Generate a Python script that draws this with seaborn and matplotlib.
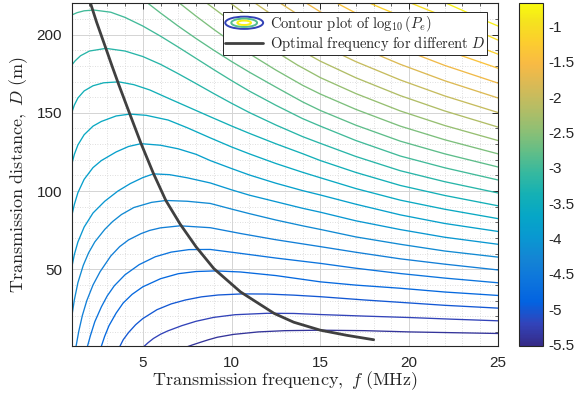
import numpy as np
import pandas as pd
import seaborn as sns
import matplotlib
matplotlib.use("Agg")
import matplotlib.pyplot as plt
from matplotlib.colors import LinearSegmentedColormap, Normalize
from matplotlib.cm import ScalarMappable
from matplotlib.patches import Ellipse
from matplotlib.lines import Line2D
from matplotlib.legend_handler import HandlerBase
from matplotlib.ticker import MultipleLocator, FormatStrFormatter

# ---------------- data ----------------
contour_levels = [-5.4, -5.2, -5.0, -4.8, -4.6, -4.4, -4.2, -4.0, -3.8, -3.6, -3.4, -3.2,
                  -3.0, -2.8, -2.6, -2.4, -2.2, -2.0, -1.8, -1.6, -1.4, -1.2, -1.0, -0.8]

contour_f = [
    [7.5, 7.8, 8.2, 8.7, 9.2, 10.1, 11.5, 13.0, 15.0, 17.5, 20.0, 22.5, 25],
    [5.05, 5.3, 5.6, 6.0, 6.4, 7.2, 8.0, 9.0, 10.2, 12.0, 13.5, 15, 17.5, 20, 22.5, 25],
    [3.7, 3.9, 4.2, 4.6, 5.0, 5.8, 6.6, 7.4, 8.3, 9.25, 10.6, 12, 13.5, 15, 17.5, 19.5, 22, 25],
    [2.66, 2.85, 3.1, 3.5, 3.9, 4.4, 5.0, 6.0, 7.0, 8.0, 9.1, 10.5, 12.5, 15, 17, 19.5, 22, 25],
    [1.88, 2.05, 2.3, 2.67, 3.0, 3.4, 4.0, 4.8, 5.7, 6.6, 7.6, 8.8, 10.5, 12.5, 15, 17, 19.5, 22, 25],
    [1.24, 1.4, 1.6, 1.85, 2.2, 2.6, 3.2, 3.7, 4.2, 4.9, 5.4, 6.0, 7.1, 8.8, 10.5, 12.5, 15, 17, 19.5, 22, 25],
    [1, 1.15, 1.35, 1.65, 1.95, 2.3, 2.86, 3.3, 3.8, 4.5, 5.5, 6.3, 7.5, 8.8, 10.0, 11.0, 12.5, 14, 15, 17, 19.5, 22, 25],
    [1, 1.15, 1.35, 1.7, 2.2, 2.86, 3.6, 4.3, 5.0, 5.6, 6.5, 7.5, 8.8, 10.0, 11.0, 12.5, 14, 15, 17, 19.5, 22, 25],
    [1, 1.15, 1.35, 1.7, 2.2, 2.67, 3.5, 4.2, 4.9, 6.0, 7.0, 8.0, 8.8, 10.0, 11.0, 12.5, 14, 15, 17, 19.5, 22, 25],
    [1, 1.15, 1.35, 1.7, 2.2, 2.67, 3.5, 4.28, 5.2, 6.43, 7.5, 8.8, 10.0, 11.0, 12.5, 14, 15, 17, 19.5, 22, 25],
    [1, 1.15, 1.35, 1.7, 2.2, 2.8, 3.65, 4.5, 5.4, 6.5, 7.6, 8.8, 10.0, 11.0, 12.5, 14, 15, 17, 19.5, 22, 25],
    [1, 1.2, 1.5, 2.0, 2.93, 4.0, 5.0, 6.0, 7.0, 8.0, 9.0, 10.0, 11.0, 12.5, 14, 15, 17, 19.5, 22, 25],
    [1, 1.3, 1.7, 2.25, 3.2, 4.0, 5.0, 6.0, 7.0, 8.0, 9.0, 10.0, 11.0, 12.5, 14, 15, 17, 19.5, 22, 25],
    [5.0, 6.0, 7.0, 8.0, 9.0, 10.0, 11.0, 12.5, 14, 15, 17, 19.5, 22, 25],
    [6.8, 8.0, 9.0, 10.0, 11.0, 12.5, 14, 15, 17, 19.5, 22, 25],
    [8.5, 9.5, 10.5, 11.5, 12.5, 13.7, 15, 17, 19.5, 22, 25],
    [9.8, 11, 12, 13, 14, 15, 17, 19.5, 22, 25],
    [11.2, 12, 13, 14, 15, 17, 19.5, 22, 25],
    [12.6, 13, 14, 15, 17, 19.5, 22, 25],
    [14.0, 15, 16, 17, 19.5, 22, 25],
    [15.9, 17, 18, 19.5, 22, 25],
    [17.7, 18.5, 19.5, 21, 22, 23.5, 25],
    [19.8, 21, 22, 23.5, 25],
    [21.9, 23, 24, 25],
]

contour_D = [
    [0.5, 1.7, 3.2, 5.0, 6.6, 8.4, 10.0, 10.8, 11.1, 10.8, 10.0, 9.5, 9.0],
    [0.5, 3.1, 5.8, 8.5, 10.6, 14.0, 16.8, 19.3, 21.0, 21.9, 21.8, 21.1, 20.1, 19.2, 18.1, 17.1],
    [0.5, 5.0, 9.6, 14.6, 18.5, 24.2, 27.9, 30.4, 32.4, 33.6, 34.3, 34.2, 33.5, 32.5, 30.4, 28.9, 27.0, 25.2],
    [0.5, 7.0, 14.0, 22.0, 28.5, 34.0, 38.8, 44.0, 47.2, 48.6, 49.0, 48.3, 46.0, 42.0, 39.9, 37.9, 35.5, 33.3],
    [0.5, 7.5, 16.5, 26.0, 33.0, 39.5, 46.5, 53.0, 58.0, 61.0, 62.6, 62.7, 60.2, 57.2, 53.8, 50.7, 47.3, 44.4, 41.4],
    [0.5, 10.5, 20.5, 30.0, 40.0, 48.5, 58.5, 64.5, 68.8, 72.8, 74.9, 76.5, 77.8, 76.6, 72.9, 68.9, 64.5, 60.9, 56.7, 53.3, 49.6],
    [19.5, 30.5, 41.5, 52.5, 60.5, 67.5, 75.5, 80.5, 85.0, 89.5, 92.8, 94, 93.5, 92.1, 88.5, 85.6, 81.5, 77.8, 75.5, 70.7, 66.0, 61.7, 57.8],
    [51, 59.5, 67.5, 77.0, 86.0, 93.5, 100.0, 104.8, 108.6, 111.0, 110.5, 108.5, 105.2, 100.8, 97.4, 93.2, 89.0, 86.5, 81.0, 75.4, 70.5, 66.0],
    [84, 91.5, 99.0, 107.5, 115.0, 119.5, 125.0, 128.5, 130.3, 129.3, 127, 123.5, 119.5, 114.4, 110.3, 105.0, 100.3, 97.5, 91.6, 84.8, 79.3, 74.2],
    [117, 123.5, 129.5, 136.0, 141.5, 144.5, 148.0, 149.2, 148.4, 145.4, 140.5, 134, 128.2, 123.8, 117.6, 112.0, 108.5, 101.6, 94.2, 88.4, 82.4],
    [150, 155.0, 159.5, 164.0, 167.3, 169.2, 169.8, 168, 164.6, 159, 153.5, 147.5, 141.6, 136.9, 130.2, 123.9, 119.5, 111.9, 103.6, 97.2, 90.6],
    [180.5, 183.3, 186.5, 189.5, 191.2, 189.5, 186, 181, 175, 168.7, 162.3, 156.1, 150.2, 142.2, 134.8, 130.5, 122.1, 113.0, 106.0, 98.8],
    [212.5, 214.0, 215.2, 215.7, 214.3, 211, 205.5, 199, 192, 184.8, 177.6, 170.6, 163.9, 154.8, 146.3, 141.5, 132.3, 122.4, 114.9, 107.1],
    [222.6, 213.8, 205.4, 197.5, 190.0, 182.8, 176.0, 166.4, 157.0, 151.5, 142.1, 131.9, 123.8, 115.4],
    [222.5, 211.8, 203.3, 195.3, 187.8, 177.3, 167.6, 162.0, 152.2, 141.5, 132.8, 123.8],
    [221, 212.5, 204.2, 196.4, 189.1, 180.6, 172.5, 162.3, 151.2, 141.9, 132.3],
    [221.2, 211.2, 203.4, 196.1, 189.3, 183.0, 172.4, 161.0, 151.2, 140.9],
    [221.1, 214.8, 207.2, 200.1, 193.5, 182.7, 171.0, 160.8, 150.2],
    [221.2, 218.2, 210.9, 204.0, 193.0, 181.0, 170.5, 159.5],
    [221.6, 214.5, 208.7, 203.3, 191.2, 180.3, 169.0],
    [220.3, 213.7, 208.0, 201.5, 190.2, 178.5],
    [220.5, 216.6, 212.0, 205.2, 200.8, 194.0, 187.5],
    [221.5, 216.0, 211.5, 204.0, 196.5],
    [221.0, 215.5, 210.3, 205.5],
]

opt_f = [2.06, 2.4, 2.93, 3.3, 3.65, 4.28, 4.9, 5.6, 6.3, 7.1, 8.0, 9.0, 10.5, 12.4, 13.5, 15.0, 16.5, 18.0]
opt_D = [220, 208, 191, 179, 168, 149, 130.5, 111.3, 94, 79, 64.4, 50.5, 35.6, 21.8, 16.2, 11.1, 7.8, 5.0]

cbar_ticks = [-5.5, -5, -4.5, -4, -3.5, -3, -2.5, -2, -1.5, -1]
cbar_range = (-5.52, -0.67)

# ---------------- style ----------------
sns.set_theme(style="white")
plt.rcParams["font.family"] = ["Liberation Sans", "DejaVu Sans"]
plt.rcParams["mathtext.fontset"] = "cm"
plt.rcParams["axes.unicode_minus"] = False

parula_anchors = [
    (0.2081, 0.1663, 0.5292), (0.1959, 0.2645, 0.7279), (0.0117, 0.3875, 0.8820),
    (0.0498, 0.4586, 0.8641), (0.0793, 0.5200, 0.8312), (0.0343, 0.5966, 0.8199),
    (0.0228, 0.6535, 0.7768), (0.0843, 0.6928, 0.7062), (0.2178, 0.7250, 0.6193),
    (0.3953, 0.7459, 0.5244), (0.5709, 0.7485, 0.4494), (0.7184, 0.7411, 0.3905),
    (0.8507, 0.7299, 0.3360), (0.9739, 0.7314, 0.2666), (0.9880, 0.8066, 0.1794),
    (0.9589, 0.8949, 0.1132), (0.9763, 0.9831, 0.0538)]
parula_pos = [0, 4, 8, 12, 16, 20, 24, 28, 32, 36, 40, 44, 48, 52, 56, 60, 63]
parula = LinearSegmentedColormap.from_list(
    "parula", list(zip([p / 63 for p in parula_pos], parula_anchors)))
norm = Normalize(*cbar_range)

W, H = 588, 396
fig = plt.figure(figsize=(W / 100, H / 100), dpi=100)
ax_l, ax_r, ax_t, ax_b = 71.7, 498.0, 3.3, 346.0
ax = fig.add_axes([ax_l / W, 1 - ax_b / H, (ax_r - ax_l) / W, (ax_b - ax_t) / H])

rows = []
for i, (lv, fs, ds) in enumerate(zip(contour_levels, contour_f, contour_D)):
    for f, d in zip(fs, ds):
        rows.append({"f": f, "D": d, "level": lv, "line": i})
df = pd.DataFrame(rows)

sns.lineplot(data=df, x="f", y="D", hue="level", units="line", estimator=None,
             sort=False, palette=parula, hue_norm=norm, legend=False,
             linewidth=0.95, ax=ax)
sns.lineplot(x=opt_f, y=opt_D, sort=False, color="#404040", linewidth=2.0,
             estimator=None, ax=ax)

ax.set_xlim(1, 25)
ax.set_ylim(1, 220)
ax.set_xticks([5, 10, 15, 20, 25])
ax.set_yticks([50, 100, 150, 200])
ax.xaxis.set_minor_locator(MultipleLocator(1))
ax.yaxis.set_minor_locator(MultipleLocator(10))
ax.set_axisbelow(True)
ax.grid(True, which="major", color="#d4d4d4", linewidth=0.7, linestyle="-")
ax.grid(True, which="minor", color="#d4d4d4", linewidth=0.6, linestyle=(0, (1, 2)))
ax.tick_params(which="both", direction="in", top=True, right=True, colors="#262626",
               labelsize=11, labelcolor="#262626")
ax.tick_params(which="major", length=4, width=0.7, pad=7)
ax.tick_params(which="minor", length=2, width=0.5)
for s in ax.spines.values():
    s.set_color("#262626")
    s.set_linewidth(0.8)

ax.set_xlabel(r"$\mathrm{Transmission\ frequency,}\ f\ \mathrm{(MHz)}$", fontsize=13,
              labelpad=0, color="#262626")
ax.set_ylabel(r"$\mathrm{Transmission\ distance,}\ D\ \mathrm{(m)}$", fontsize=13,
              labelpad=5, color="#262626")


class HandlerContour(HandlerBase):
    def create_artists(self, legend, orig_handle, xdescent, ydescent, width, height,
                       fontsize, trans):
        cx = width / 2 - xdescent
        cy = height / 2 - ydescent
        arts = []
        for sc, col in [(1.0, parula(0.06)), (0.68, parula(0.55)), (0.36, parula(0.98))]:
            e = Ellipse((cx, cy), width * sc, height * 1.2 * sc, fill=False,
                        edgecolor=col, linewidth=1.4, transform=trans)
            arts.append(e)
        return arts


contour_proxy = Line2D([], [], color="none")
opt_proxy = Line2D([], [], color="#404040", linewidth=2.0)
leg = ax.legend([contour_proxy, opt_proxy],
                [r"$\mathrm{Contour\ plot\ of}\ \log_{10}(P_e)$",
                 r"$\mathrm{Optimal\ frequency\ for\ different}\ D$"],
                handler_map={contour_proxy: HandlerContour()},
                loc="upper right", bbox_to_anchor=(0.975, 0.9755), borderaxespad=0,
                fontsize=10.5, frameon=True, fancybox=False, framealpha=1,
                edgecolor="#262626", handlelength=2.6, handletextpad=0.45,
                borderpad=0.15, labelspacing=0.0)
leg.get_frame().set_linewidth(0.7)

cb_l, cb_r = 519.3, 543.3
cax = fig.add_axes([cb_l / W, 1 - ax_b / H, (cb_r - cb_l) / W, (ax_b - ax_t) / H])
cb = fig.colorbar(ScalarMappable(norm=norm, cmap=parula), cax=cax)
cb.set_ticks(cbar_ticks)
cb.ax.yaxis.set_major_formatter(FormatStrFormatter("%g"))
cb.ax.tick_params(direction="in", length=4, width=0.7, labelsize=11,
                  colors="#262626", pad=4)
cb.outline.set_edgecolor("#262626")
cb.outline.set_linewidth(0.8)

fig.savefig("out.png", dpi=100)
